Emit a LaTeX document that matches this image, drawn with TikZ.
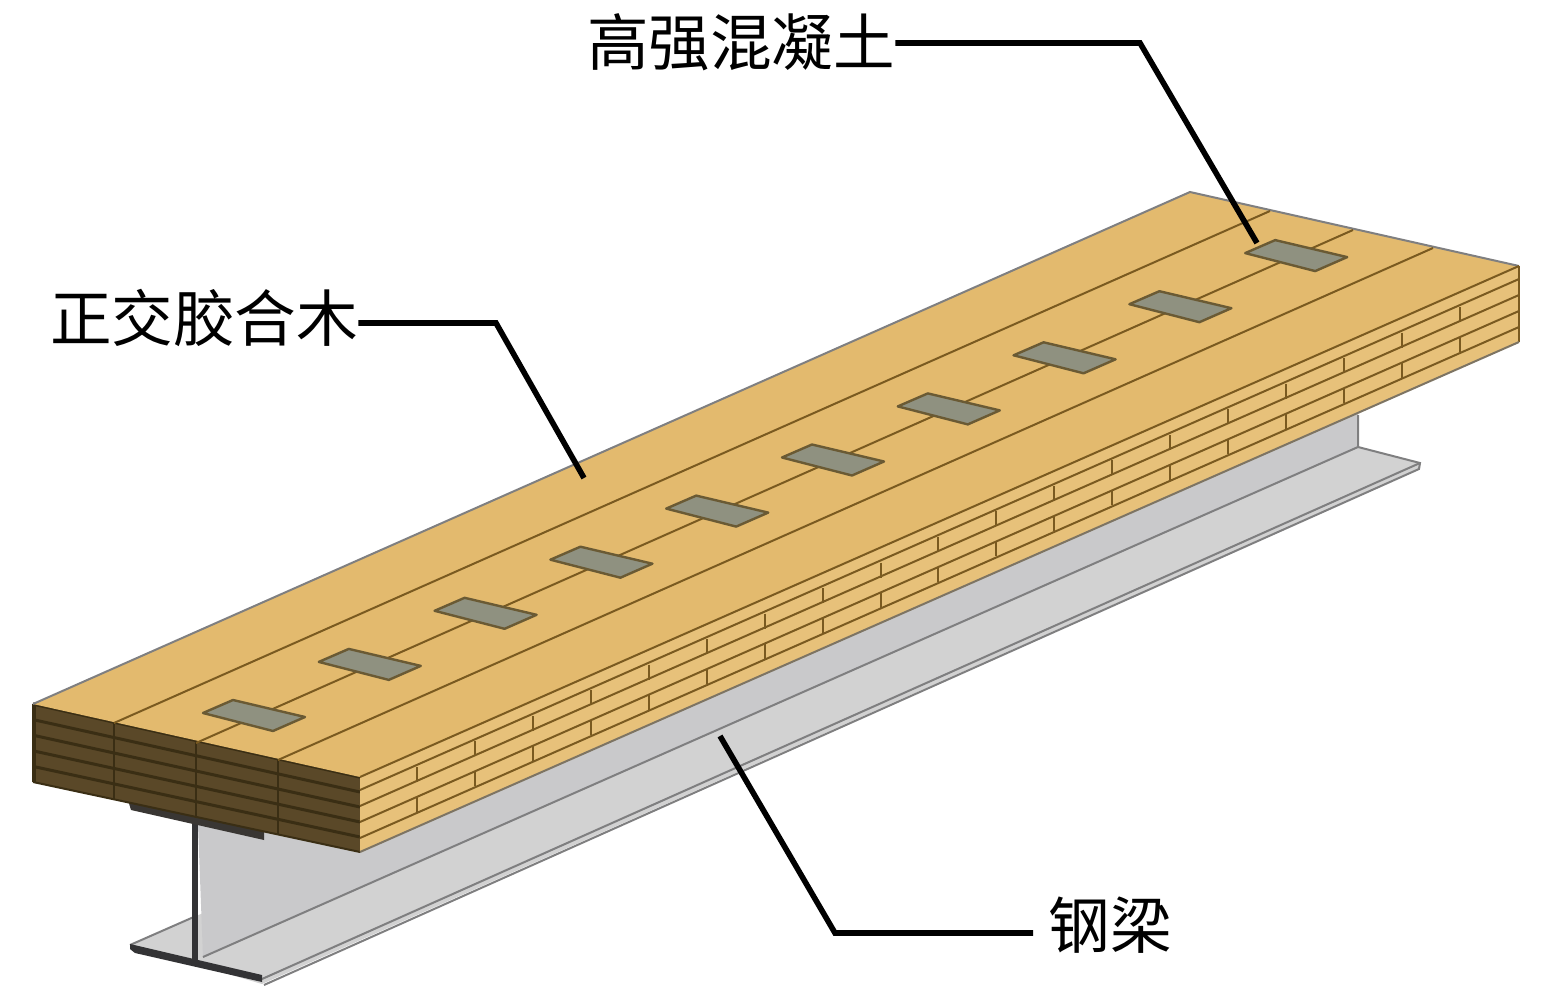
\documentclass[tikz,border=0pt]{standalone}
\usepackage{fontspec}
\newfontfamily\cjk{Noto Sans CJK SC}
\definecolor{topwood}{HTML}{E3BA6E}
\definecolor{sidewood}{HTML}{E7C17A}
\definecolor{woodline}{HTML}{7A5A20}
\definecolor{frontwood}{HTML}{5A4828}
\definecolor{frontline}{HTML}{3A2E14}
\definecolor{patch}{HTML}{8F9180}
\definecolor{patchline}{HTML}{6A5A34}
\definecolor{webgray}{HTML}{C9C9CB}
\definecolor{flangegray}{HTML}{D2D2D2}
\definecolor{steelline}{HTML}{7F7F80}
\definecolor{steeldark}{HTML}{333335}
\tikzset{
  plankline/.style={draw=woodline,line width=1pt},
  patchbox/.style={fill=patch,draw=patchline,line width=1.2pt,line join=round},
  steeledge/.style={draw=steelline,line width=1pt},
  leader/.style={draw=black,line width=2.8pt,line join=miter},
  tag/.style={font=\cjk\fontsize{30.8pt}{31pt}\selectfont,inner sep=0pt,anchor=center},
}
\begin{document}
\begin{tikzpicture}[x=0.5pt,y=-0.5pt]
\useasboundingbox (0,0) rectangle (1555,996);
% steel: lower flange
\fill[flangegray] (130,945) -- (196,916) -- (1358,447) -- (1420,463) -- (1420,468) -- (262,984) -- cycle;
\draw[steeledge] (1358,447) -- (1420,463) -- (1419,469) -- (264,985);
\draw[steeledge] (262,979) -- (1420,463);
\draw[steeledge] (130,945) -- (196,916);
% web
\fill[webgray] (198,825) -- (1358,405) -- (1358,447) -- (203,957) -- cycle;
\draw[steeledge] (1358,415) -- (1358,447) -- (203,957);
% lower flange front and web front
\fill[steeldark] (130,944) -- (262,975) -- (262,982) -- (135,953) -- (130,949) -- cycle;
\fill[steeldark] (192,820) -- (198,820) -- (198,960) -- (192,960) -- cycle;
% top flange seen under the slab
\fill[steeldark!85!frontwood] (128,800) -- (264,832) -- (264,840) -- (131,810) -- cycle;
% slab: front face
\fill[frontwood] (33,704) -- (360,777) -- (360,852) -- (33,782) -- cycle;
\foreach \k in {1,2,3,4}{
  \draw[frontline,line width=1.5pt] (33,704+15.6*\k) -- (360,777+15*\k);
}
\draw[frontline,line width=1.6pt] (33,704) -- (360,777);
\draw[frontline,line width=1pt] (33,782) -- (360,852);
\foreach \x/\a/\b in {114/723/800,196/741/818,278/759/835}{
  \draw[frontline,line width=1.2pt] (\x,\a) -- (\x,\b);
}
\fill[frontline] (32,704) rectangle (36,782);
% slab: long side
\fill[sidewood] (360,777) -- (1519,266) -- (1519,342) -- (360,852) -- cycle;
\foreach \k in {13,29,45,61}{
  \draw[plankline] (360,777+\k) -- (1519,266+\k);
}
\foreach \n in {0,...,18}{
  \pgfmathsetmacro{\tx}{417+57.94*\n}
  \pgfmathsetmacro{\ty}{777-(\tx-360)*0.4409}
  \draw[plankline] (\tx,\ty+15) -- (\tx,\ty+30);
  \draw[plankline] (\tx,\ty+45) -- (\tx,\ty+60);
}
\draw[woodline,line width=1pt] (1519,266) -- (1519,342);
\draw[steelline!70!woodline,line width=1pt] (360,852) -- (1519,342);
% slab: top face
\fill[topwood] (33,704) -- (1190,192) -- (1519,266) -- (360,777) -- cycle;
\draw[steelline,line width=1pt] (33,704) -- (1190,192) -- (1519,266);
\draw[woodline,line width=1pt] (360,777) -- (1519,266);
\draw[plankline] (114,723) -- (1270,211);
\draw[plankline] (196,743) -- (1353,230);
\draw[plankline] (278,760) -- (1433,248);
% concrete pockets
\foreach \n in {0,...,9}{
  \begin{scope}[shift={(115.8*\n,-51.1*\n)}]
    \draw[patchbox] (203,713) -- (233,700) -- (305,717) -- (273,731) -- cycle;
  \end{scope}
}
% labels and leaders
\node[tag] (concrete) at (741,42) {高强混凝土};
\node[tag] (clt) at (204,318) {正交胶合木};
\node[tag] (steel) at (1110,925) {钢梁};
\coordinate (concreteEnd) at (1257,243);
\coordinate (concreteBend) at (1140,43);
\coordinate (cltEnd) at (584,478);
\coordinate (cltBend) at (496,323);
\coordinate (steelEnd) at (720,736);
\coordinate (steelBend) at (835,933);
\draw[leader] (concrete.east |- concreteBend) -- (concreteBend) -- (concreteEnd);
\draw[leader] (clt.east |- cltBend) -- (cltBend) -- (cltEnd);
\draw[leader] ([xshift=-7.5pt]steel.west |- steelBend) -- (steelBend) -- (steelEnd);
\end{tikzpicture}
\end{document}
